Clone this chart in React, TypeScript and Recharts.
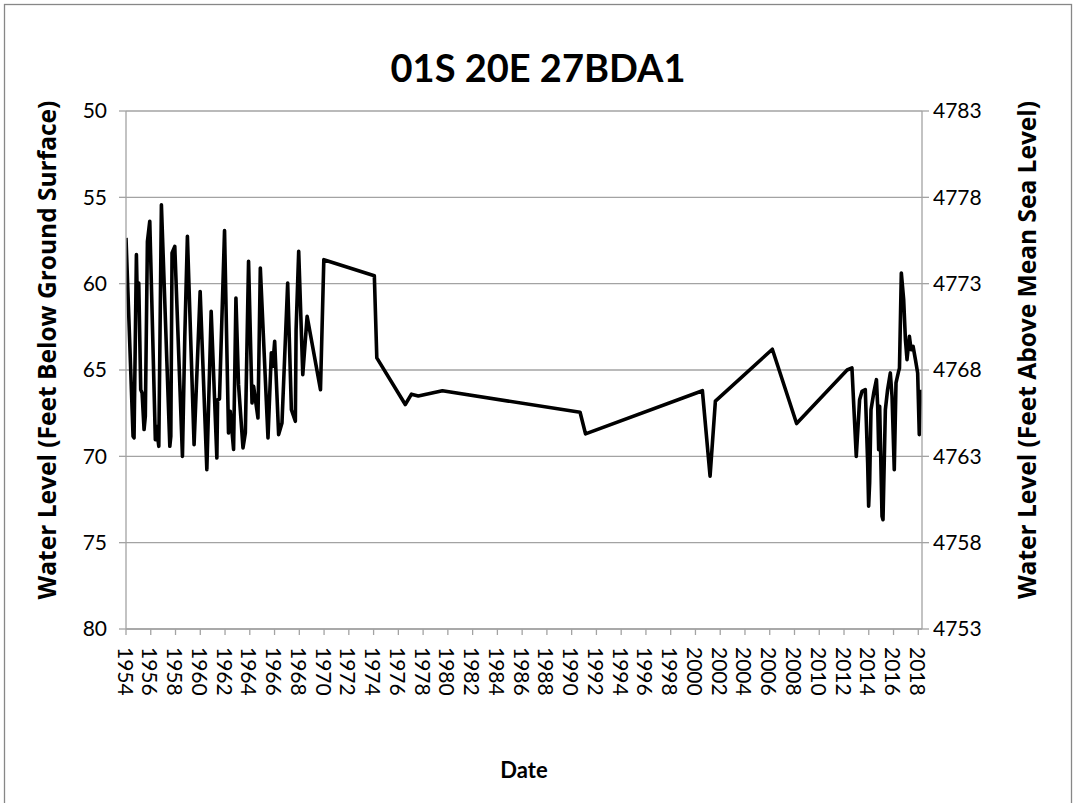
import React from 'react';
import { LineChart, Line, XAxis, YAxis, CartesianGrid, Label } from 'recharts';

// Measurement dates (decimal years)
const dateYears = [
  1954.0, 1954.57, 1954.65, 1954.84, 1954.92, 1955.03, 1955.19, 1955.3, 1955.46, 1955.56,
  1955.73, 1955.92, 1956.37, 1956.45, 1956.65, 1956.86, 1957.54, 1957.62, 1957.72, 1957.94,
  1958.56, 1958.75, 1958.96, 1959.5, 1959.99, 1960.53, 1960.88, 1961.34, 1961.4, 1961.55,
  1961.96, 1962.28, 1962.42, 1962.69, 1962.88, 1963.09, 1963.45, 1963.64, 1963.9, 1964.18,
  1964.31, 1964.66, 1964.85, 1965.47, 1965.74, 1965.85, 1966.01, 1966.33, 1966.6, 1967.06,
  1967.36, 1967.68, 1967.74, 1967.95, 1968.28, 1968.63, 1969.71, 1969.98, 1974.06, 1974.26,
  1976.56, 1977.06, 1977.61, 1979.56, 1990.68, 1991.12, 2000.56, 2001.18, 2001.61, 2006.21,
  2008.17, 2012.25, 2012.64, 2012.99, 2013.26, 2013.45, 2013.72, 2013.91, 2013.99, 2014.07,
  2014.18, 2014.4, 2014.62, 2014.72, 2014.8, 2014.88, 2015.07, 2015.15, 2015.34, 2015.52,
  2015.74, 2015.88, 2016.06, 2016.2, 2016.41, 2016.48, 2016.63, 2016.82, 2016.96, 2017.09,
  2017.28, 2017.42, 2017.58, 2017.77, 2017.95, 2018.08, 2018.18,
];

// Water level, feet below ground surface
const depthBelowSurface = [
  57.35, 68.84, 68.93, 58.32, 61.12, 59.96, 66.14, 66.33, 68.45, 67.68,
  57.55, 56.39, 69.03, 68.26, 69.42, 55.43, 69.42, 68.84, 58.22, 57.84,
  70.0, 63.05, 57.26, 69.32, 60.45, 70.77, 61.6, 70.1, 66.72, 66.68,
  56.93, 68.65, 67.39, 69.6, 60.83, 65.85, 69.51, 68.65, 58.71, 66.91,
  65.95, 67.78, 59.09, 68.93, 64.01, 64.79, 63.34, 68.74, 68.07, 59.96,
  67.3, 67.97, 62.66, 58.13, 65.27, 61.89, 66.14, 58.61, 59.54, 64.3,
  67.0, 66.4, 66.5, 66.2, 67.45, 68.7, 66.2, 71.15, 66.8, 63.8,
  68.1, 65.0, 64.88, 70.0, 66.72, 66.24, 66.14, 70.38, 72.89, 71.54,
  67.3, 66.33, 65.56, 67.1, 69.61, 67.1, 73.47, 73.67, 67.3, 66.14,
  65.17, 66.53, 70.77, 65.75, 65.08, 64.9, 59.38, 60.93, 63.24, 64.4,
  63.05, 63.82, 63.63, 64.4, 65.17, 68.74, 66.14,
];

const xTicks = [
  1954, 1956, 1958, 1960, 1962, 1964, 1966, 1968, 1970, 1972, 1974, 1976, 1978, 1980, 1982, 1984,
  1986, 1988, 1990, 1992, 1994, 1996, 1998, 2000, 2002, 2004, 2006, 2008, 2010, 2012, 2014, 2016, 2018,
];
const leftTicks = [50, 55, 60, 65, 70, 75, 80];
const rightTicks = [4753, 4758, 4763, 4768, 4773, 4778, 4783];

const chartTitle = '01S 20E 27BDA1';
const xTitle = 'Date';
const leftTitle = 'Water Level (Feet Below Ground Surface)';
const rightTitle = 'Water Level (Feet Above Mean Sea Level)';

const data = dateYears.map((year, i) => ({ year, depth: depthBelowSurface[i] }));

const W = 1076;
const H = 803;
const PLOT_L = 126;
const PLOT_R = 922;
const PLOT_T = 111;
const PLOT_B = 629;
const Y_AXIS_W = 60;
const X_AXIS_H = 60;
const GRID = '#a3a3a3';
const FONT = 'Lato, "Open Sans", sans-serif';
const SIDE_FONT = '"Open Sans", Lato, sans-serif';
const MID_Y = 350;

const YearTick = (props: any) => {
  const { x, y, payload } = props;
  return (
    <text
      x={x}
      y={y}
      transform={`rotate(90 ${x} ${y})`}
      textAnchor="start"
      dominantBaseline="central"
      fontSize={21}
      fontFamily={FONT}
      fill="#000"
    >
      {payload.value}
    </text>
  );
};

export default function App() {
  return (
    <div style={{ position: 'fixed', left: 0, top: 0, width: W, height: H, background: '#fff', overflow: 'hidden' }}>
      <LineChart
        width={W}
        height={H}
        data={data}
        margin={{ top: PLOT_T, bottom: H - PLOT_B - X_AXIS_H, left: PLOT_L - Y_AXIS_W, right: W - PLOT_R - Y_AXIS_W }}
      >
        <CartesianGrid yAxisId="left" horizontal vertical={false} stroke={GRID} strokeWidth={1.3} />
        <XAxis
          dataKey="year"
          type="number"
          domain={[1954, 2018.3]}
          ticks={xTicks}
          interval={0}
          allowDataOverflow
          height={X_AXIS_H}
          tickSize={6}
          tickMargin={12}
          axisLine={{ stroke: GRID, strokeWidth: 1.3 }}
          tickLine={{ stroke: GRID, strokeWidth: 1.3 }}
          tick={<YearTick />}
        >
          <Label
            content={() => (
              <text x={(PLOT_L + PLOT_R) / 2} y={778} textAnchor="middle" fontSize={22} fontWeight="bold" fontFamily={FONT} fill="#000">
                {xTitle}
              </text>
            )}
          />
        </XAxis>
        <YAxis
          yAxisId="left"
          orientation="left"
          type="number"
          domain={[50, 80]}
          reversed
          ticks={leftTicks}
          interval={0}
          allowDataOverflow
          width={Y_AXIS_W}
          tickSize={7}
          tickMargin={12}
          axisLine={{ stroke: GRID, strokeWidth: 1.3 }}
          tickLine={{ stroke: GRID, strokeWidth: 1.3 }}
          tick={{ fill: '#000', fontSize: 21, fontFamily: FONT }}
        >
          <Label
            content={() => (
              <text
                x={46}
                y={MID_Y}
                transform={`rotate(-90 46 ${MID_Y})`}
                textAnchor="middle"
                dominantBaseline="central"
                fontSize={24.5}
                fontWeight="bold"
                fontFamily={SIDE_FONT}
                fill="#000"
              >
                {leftTitle}
              </text>
            )}
          />
        </YAxis>
        <YAxis
          yAxisId="right"
          orientation="right"
          type="number"
          domain={[4753, 4783]}
          ticks={rightTicks}
          interval={0}
          allowDataOverflow
          width={Y_AXIS_W}
          tickSize={7}
          tickMargin={4}
          axisLine={{ stroke: GRID, strokeWidth: 1.3 }}
          tickLine={{ stroke: GRID, strokeWidth: 1.3 }}
          tick={{ fill: '#000', fontSize: 21, fontFamily: FONT }}
        >
          <Label
            content={() => (
              <text
                x={1026}
                y={MID_Y}
                transform={`rotate(-90 1026 ${MID_Y})`}
                textAnchor="middle"
                dominantBaseline="central"
                fontSize={24.5}
                fontWeight="bold"
                fontFamily={SIDE_FONT}
                fill="#000"
              >
                {rightTitle}
              </text>
            )}
          />
        </YAxis>
        <Line
          yAxisId="left"
          type="linear"
          dataKey="depth"
          stroke="#000"
          strokeWidth={3.6}
          strokeLinejoin="round"
          dot={false}
          activeDot={false}
          isAnimationActive={false}
        />
      </LineChart>
      <svg width={W} height={H} style={{ position: 'absolute', left: 0, top: 0, pointerEvents: 'none' }}>
        <rect x={4.5} y={4.5} width={1067} height={900} fill="none" stroke="#878787" strokeWidth={1.3} />
        <text x={538} y={82} textAnchor="middle" fontSize={38} fontWeight="bold" fontFamily={FONT} fill="#000">
          {chartTitle}
        </text>
      </svg>
    </div>
  );
}
